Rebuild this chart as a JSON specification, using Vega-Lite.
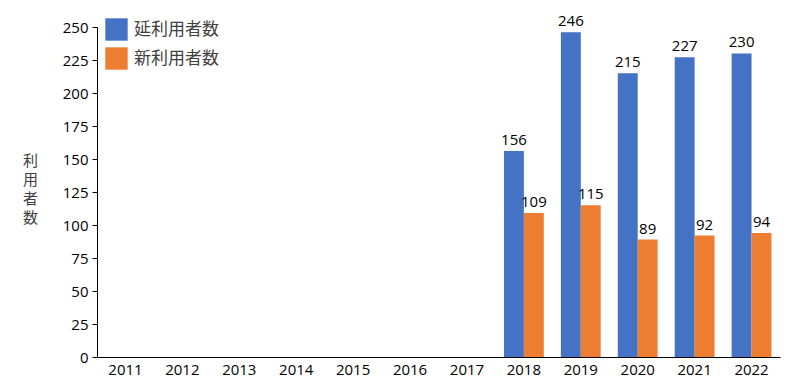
{
  "$schema": "https://vega.github.io/schema/vega-lite/v6.json",
  "width": 683,
  "height": 330,
  "autosize": {"type": "none"},
  "padding": {"left": 97, "top": 27, "right": 10, "bottom": 30},
  "background": "white",
  "config": {
    "view": {"stroke": null},
    "font": "Open Sans",
    "axis": {"labelFont": "Open Sans", "titleFont": "Noto Sans CJK JP", "labelColor": "#000", "titleColor": "#404040"},
    "legend": {"labelFont": "Noto Sans CJK JP"}
  },
  "data": {
    "values": [
      {"year": "2018", "series": "延利用者数", "value": 156},
      {"year": "2018", "series": "新利用者数", "value": 109},
      {"year": "2019", "series": "延利用者数", "value": 246},
      {"year": "2019", "series": "新利用者数", "value": 115},
      {"year": "2020", "series": "延利用者数", "value": 215},
      {"year": "2020", "series": "新利用者数", "value": 89},
      {"year": "2021", "series": "延利用者数", "value": 227},
      {"year": "2021", "series": "新利用者数", "value": 92},
      {"year": "2022", "series": "延利用者数", "value": 230},
      {"year": "2022", "series": "新利用者数", "value": 94}
    ]
  },
  "encoding": {
    "x": {
      "field": "year", "type": "nominal",
      "scale": {"domain": ["2011","2012","2013","2014","2015","2016","2017","2018","2019","2020","2021","2022"], "paddingInner": 0.3, "paddingOuter": 0.15},
      "axis": {"title": null, "labelAngle": 0, "ticks": false, "labelFontSize": 15, "labelPadding": 5, "domainColor": "#000", "domainWidth": 1}
    },
    "xOffset": {"field": "series", "type": "nominal", "scale": {"domain": ["延利用者数", "新利用者数"]}},
    "y": {
      "field": "value", "type": "quantitative",
      "scale": {"domain": [0, 250]},
      "axis": {
        "values": [0,25,50,75,100,125,150,175,200,225,250],
        "grid": false, "tickColor": "#000", "tickSize": 5, "domainColor": "#000",
        "labelFontSize": 15, "labelPadding": 4,
        "title": ["利", "用", "者", "数"], "titleAngle": 0, "titleFontSize": 15, "titleFontWeight": "normal",
        "titleLineHeight": 19, "titleX": -67, "titleY": 126, "titleBaseline": "top", "titleAlign": "center"
      }
    }
  },
  "layer": [
    {
      "mark": {"type": "bar"},
      "encoding": {
        "color": {
          "field": "series", "type": "nominal",
          "scale": {"domain": ["延利用者数", "新利用者数"], "range": ["#4472C4", "#ED7D31"]},
          "legend": {"title": null, "orient": "none", "legendX": 8, "legendY": -9, "symbolType": "square", "symbolSize": 500, "symbolStrokeWidth": 0, "labelFontSize": 17, "labelColor": "#404040", "rowPadding": 6, "labelOffset": 6}
        }
      }
    },
    {
      "mark": {"type": "text", "baseline": "bottom", "dy": -3, "fontSize": 15, "color": "#000", "font": "Open Sans"},
      "encoding": {"text": {"field": "value", "type": "quantitative"}}
    }
  ]
}
